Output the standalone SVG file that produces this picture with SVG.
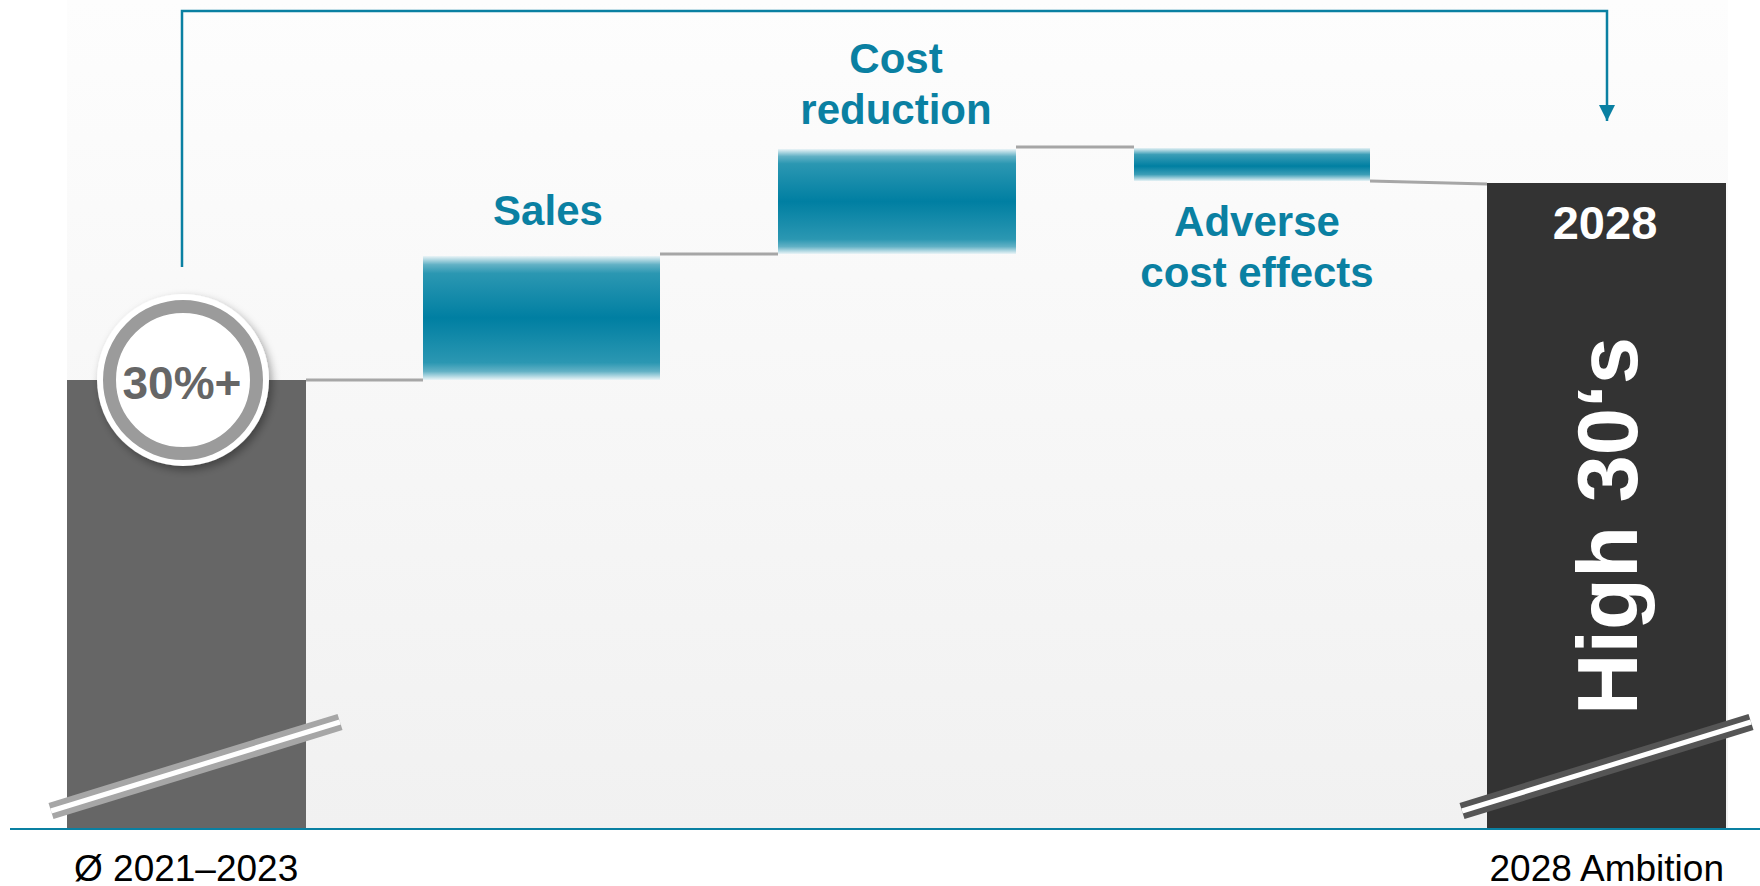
<svg xmlns="http://www.w3.org/2000/svg" width="1760" height="886" viewBox="0 0 1760 886">
  <defs>
    <linearGradient id="bg" x1="0" y1="0" x2="0" y2="1">
      <stop offset="0" stop-color="#fdfdfd"/>
      <stop offset="1" stop-color="#f1f1f1"/>
    </linearGradient>
    <linearGradient id="teal" x1="0" y1="0" x2="0" y2="1">
      <stop offset="0" stop-color="#eaf4f7"/>
      <stop offset="0.07" stop-color="#62b1c5"/>
      <stop offset="0.14" stop-color="#2b97b2"/>
      <stop offset="0.5" stop-color="#007fa2"/>
      <stop offset="0.86" stop-color="#2b97b2"/>
      <stop offset="0.93" stop-color="#62b1c5"/>
      <stop offset="1" stop-color="#eaf4f7"/>
    </linearGradient>
    <linearGradient id="tealThin" x1="0" y1="0" x2="0" y2="1">
      <stop offset="0" stop-color="#e6f2f5"/>
      <stop offset="0.2" stop-color="#3a9db6"/>
      <stop offset="0.55" stop-color="#007fa2"/>
      <stop offset="0.8" stop-color="#3a9db6"/>
      <stop offset="1" stop-color="#e6f2f5"/>
    </linearGradient>
    <filter id="shadow" x="-30%" y="-30%" width="160%" height="160%">
      <feDropShadow dx="3" dy="4" stdDeviation="4" flood-color="#000" flood-opacity="0.35"/>
    </filter>
    <marker id="arrow" viewBox="0 0 16 16" refX="16" refY="8" markerWidth="16" markerHeight="16" markerUnits="userSpaceOnUse" orient="auto">
      <path d="M0,0 L16,8 L0,16 Z" fill="#0a80a2"/>
    </marker>
  </defs>
  <style>
    .lbl { font-family: "Liberation Sans", Arial, sans-serif; font-weight: bold; font-size: 42px; fill: #0a80a2; text-anchor: middle; }
    .axis { font-family: "Liberation Sans", Arial, sans-serif; font-size: 37px; fill: #000; }
    .step { stroke: #a6a6a6; stroke-width: 3; fill: none; }
    .bracket { stroke: #0a80a2; stroke-width: 2.5; fill: none; }
  </style>

  <rect x="67" y="0" width="1661" height="828" fill="url(#bg)"/>

  <g id="connectors">
    <path class="bracket" d="M182,267 V11 H1607 V121" marker-end="url(#arrow)"/>
    <line class="step" x1="306" y1="380" x2="423" y2="380"/>
    <line class="step" x1="660" y1="254" x2="778" y2="254"/>
    <line class="step" x1="1016" y1="147" x2="1134" y2="147"/>
    <line class="step" x1="1370" y1="181" x2="1487" y2="184"/>
  </g>

  <g id="base-bar">
    <rect x="67" y="380" width="239" height="448" fill="#666666"/>
    <line x1="51" y1="811" x2="340" y2="722" stroke="#a6a6a6" stroke-width="17"/>
    <line x1="51" y1="811" x2="340" y2="722" stroke="#ffffff" stroke-width="5"/>
    <text class="axis" x="74" y="881">Ø 2021–2023</text>
  </g>

  <g id="base-value">
    <circle cx="183" cy="380" r="86" fill="#ffffff" filter="url(#shadow)"/>
    <circle cx="183" cy="380" r="73.5" fill="#ffffff" stroke="#9b9b9b" stroke-width="13"/>
    <text x="182" y="399" font-family="'Liberation Sans', Arial, sans-serif" font-weight="bold" font-size="46" fill="#666666" text-anchor="middle">30%+</text>
  </g>

  <g id="sales">
    <rect x="423" y="256" width="237" height="124" fill="url(#teal)"/>
    <text class="lbl" x="548" y="225">Sales</text>
  </g>

  <g id="cost-reduction">
    <rect x="778" y="149" width="238" height="105" fill="url(#teal)"/>
    <text class="lbl" x="896" y="73">Cost</text>
    <text class="lbl" x="896" y="124">reduction</text>
  </g>

  <g id="adverse-cost-effects">
    <rect x="1134" y="148" width="236" height="33" fill="url(#tealThin)"/>
    <text class="lbl" x="1257" y="236">Adverse</text>
    <text class="lbl" x="1257" y="287">cost effects</text>
  </g>

  <g id="ambition-bar">
    <rect x="1487" y="183" width="239" height="645" fill="#333333"/>
    <text x="1605" y="239" font-family="'Liberation Sans', Arial, sans-serif" font-weight="bold" font-size="47" fill="#ffffff" text-anchor="middle">2028</text>
    <text transform="translate(1637,526) rotate(-90)" x="0" y="0" font-family="'Liberation Sans', Arial, sans-serif" font-weight="bold" font-size="85" fill="#ffffff" text-anchor="middle">High 30‘s</text>
    <line x1="1462" y1="811" x2="1751" y2="722" stroke="#555555" stroke-width="17"/>
    <line x1="1462" y1="811" x2="1751" y2="722" stroke="#ffffff" stroke-width="5"/>
    <text class="axis" x="1724" y="881" text-anchor="end">2028 Ambition</text>
  </g>

  <line x1="10" y1="829" x2="1760" y2="829" stroke="#0a80a2" stroke-width="2"/>
</svg>
